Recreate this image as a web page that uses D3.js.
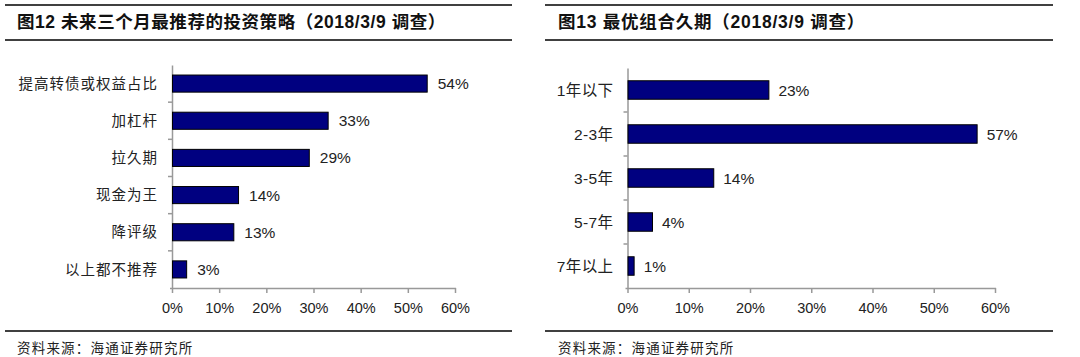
<!DOCTYPE html>
<html><head><meta charset="utf-8">
<script src="https://cdn.jsdelivr.net/npm/d3@7"></script>
<style>
body{margin:0;background:#fff;}
svg{display:block;}
</style></head>
<body>
<svg id="c" width="1080" height="357"></svg>
<script>
const leftTitle = "图12 未来三个月最推荐的投资策略（2018/3/9 调查）";
const leftCategories = ["提高转债或权益占比","加杠杆","拉久期","现金为王","降评级","以上都不推荐"];
const leftValues = [54,33,29,14,13,3];
const rightTitle = "图13 最优组合久期（2018/3/9 调查）";
const rightCategories = ["1年以下","2-3年","3-5年","5-7年","7年以上"];
const rightValues = [23,57,14,4,1];
const xTicks = [0,10,20,30,40,50,60];
const sourceText = "资料来源：海通证券研究所";

const svg = d3.select("#c");
const latin = "Arial, 'Liberation Sans', sans-serif";
const cjk = "'Noto Sans CJK SC', sans-serif";

function panel(o){
  const g = svg.append("g");
  [o.ruleTop, o.ruleMid, o.ruleBot].forEach(y=>{
    g.append("line").attr("x1",o.rx0).attr("x2",o.rx1).attr("y1",y).attr("y2",y)
     .attr("stroke","#000").attr("stroke-width",1.6);
  });
  g.append("text").attr("x",o.tx).attr("y",28).text(o.title)
   .attr("font-family",latin+", "+cjk).attr("font-weight","bold").attr("font-size",17.5)
   .attr("letter-spacing",o.tls).attr("fill","#111");
  g.append("text").attr("x",o.tx).attr("y",353).text(sourceText)
   .attr("font-family",cjk).attr("font-size",13.5).attr("letter-spacing",1.2).attr("fill","#222");

  const x = d3.scaleLinear().domain([0,60]).range([o.x0,o.x1]);
  const y = d3.scaleBand().domain(o.cats).range([o.y0,o.y1]).paddingInner(o.pad).paddingOuter(o.pad/2);
  const yb = d3.scaleBand().domain(o.cats).range([o.y0,o.y1]);

  const ya = g.append("g").attr("transform",`translate(${o.x0},0)`)
    .call(d3.axisLeft(yb).tickSize(0).tickFormat(""));
  ya.select(".domain").attr("stroke","#999").attr("stroke-width",1.5);
  o.cats.slice(1).forEach(c=>{
    g.append("line").attr("x1",o.x0-4).attr("x2",o.x0).attr("y1",yb(c)).attr("y2",yb(c))
     .attr("stroke","#999").attr("stroke-width",1.5);
  });
  const xa = g.append("g").attr("transform",`translate(0,${o.y1})`)
    .call(d3.axisBottom(x).tickValues(xTicks).tickSize(5).tickSizeOuter(0).tickFormat(d=>d+"%"));
  xa.select(".domain").attr("stroke","#999").attr("stroke-width",1.5).attr("d",`M${o.x0-2},0.5H${o.x1+1}`);
  xa.selectAll(".tick line").attr("stroke","#999").attr("stroke-width",1.5);
  xa.selectAll(".tick text").attr("font-family",latin).attr("font-size",14.5).attr("fill","#222").attr("dy","1.15em");

  g.selectAll(".cl").data(o.cats).enter().append("text")
    .attr("x",o.x0-14).attr("y",d=>yb(d)+yb.bandwidth()/2).attr("dy","0.36em")
    .attr("text-anchor","end").attr("font-family",latin+", "+cjk).attr("font-size",o.csize)
    .attr("letter-spacing",o.cls).attr("fill","#222")
    .text(d=>d);

  g.selectAll(".bar").data(o.vals).enter().append("rect")
    .attr("x",o.x0+0.5).attr("y",(d,i)=>y(o.cats[i]))
    .attr("width",d=>x(d)-o.x0).attr("height",y.bandwidth())
    .attr("fill","#000080").attr("stroke","#000").attr("stroke-width",1);
  g.selectAll(".vl").data(o.vals).enter().append("text")
    .attr("x",d=>x(d)+o.lg).attr("y",(d,i)=>y(o.cats[i])+y.bandwidth()/2).attr("dy","0.36em")
    .attr("font-family",latin).attr("font-size",15.5).attr("fill","#222")
    .text(d=>d+"%");
}

panel({title:leftTitle,cats:leftCategories,vals:leftValues,
  rx0:5,rx1:512,ruleTop:5,ruleMid:40,ruleBot:331,tx:17,tls:0.55,cls:1,csize:14.5,
  x0:172,x1:455,y0:65,y1:288,pad:0.54,lg:11});
panel({title:rightTitle,cats:rightCategories,vals:rightValues,
  rx0:545,rx1:1053,ruleTop:5,ruleMid:40,ruleBot:331,tx:558,tls:0.75,cls:0.4,csize:15.5,
  x0:627.5,x1:995,y0:68,y1:288,pad:0.58,lg:10});
</script>
</body></html>
